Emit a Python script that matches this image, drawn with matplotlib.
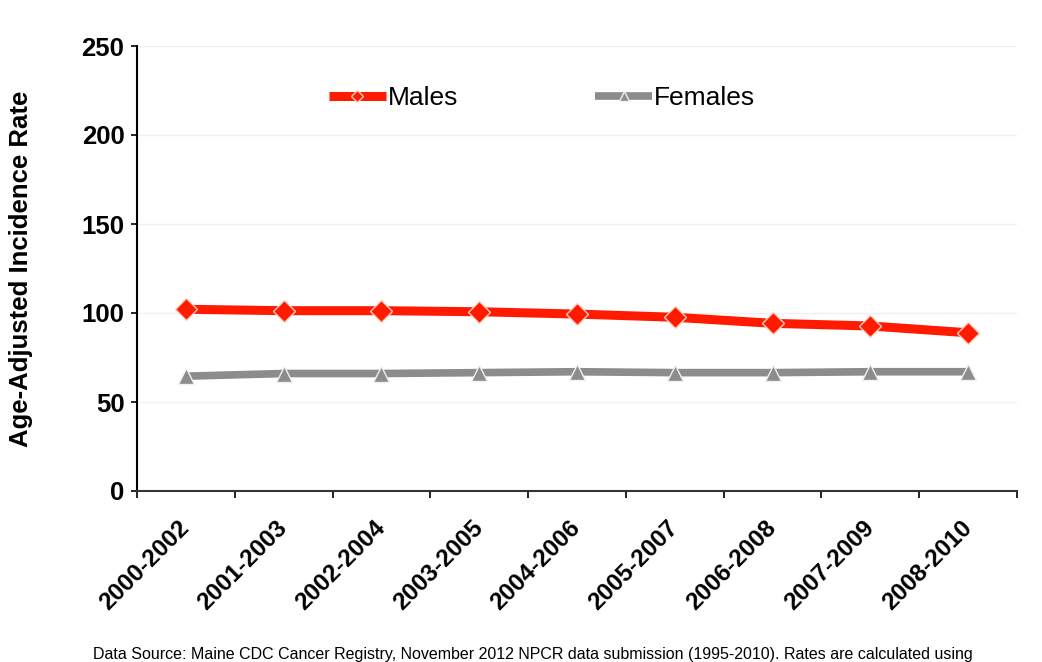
import matplotlib
matplotlib.use("Agg")
import matplotlib.pyplot as plt
from matplotlib.ticker import FixedLocator, NullFormatter
from matplotlib.transforms import ScaledTranslation

periods = ["2000-2002", "2001-2003", "2002-2004", "2003-2005", "2004-2006",
           "2005-2007", "2006-2008", "2007-2009", "2008-2010"]
males = [102.1, 101.3, 101.3, 100.7, 99.4, 97.6, 94.2, 92.7, 88.9]
females = [64.5, 66.0, 66.0, 66.5, 67.0, 66.5, 66.5, 67.0, 67.0]
y_ticks = [0, 50, 100, 150, 200, 250]

plt.rcParams["font.family"] = ["Liberation Sans", "DejaVu Sans"]

fig = plt.figure(figsize=(10.42, 6.62), dpi=100)
ax = fig.add_axes([137 / 1042, 1 - 491 / 662, (1017 - 137) / 1042, (491 - 46) / 662])

x = list(range(len(periods)))
ax.plot(x, males, color="#ff1a00", lw=6.5, marker="D", ms=11,
        mfc="#ff1a00", mec="#ffd0c0", mew=1.0, label="Males", zorder=3,
        solid_capstyle="butt")
ax.plot(x, females, color="#8c8c8c", lw=5.5, marker="^", ms=12,
        mfc="#8c8c8c", mec="#f0f0f0", mew=1.0, label="Females", zorder=3,
        solid_capstyle="butt")

ax.set_xlim(-0.5, len(periods) - 0.5)
ax.set_ylim(0, 250)
ax.set_yticks(y_ticks)
ax.set_yticklabels([str(v) for v in y_ticks], fontsize=18.5, fontweight="bold")
ax.yaxis.grid(True, color="#f0f0f0", lw=1)
ax.set_axisbelow(True)

ax.set_xticks(x)
ax.set_xticklabels(periods, rotation=45, ha="right", va="center",
                   rotation_mode="anchor", fontsize=17.5, fontweight="bold")
shift = ScaledTranslation(-4 / 100, 0, fig.dpi_scale_trans)
for lbl in ax.get_xticklabels():
    lbl.set_transform(lbl.get_transform() + shift)
ax.tick_params(axis="x", which="major", length=0, pad=24)
ax.xaxis.set_minor_locator(FixedLocator([i - 0.5 for i in range(len(periods) + 1)]))
ax.xaxis.set_minor_formatter(NullFormatter())
ax.tick_params(axis="x", which="minor", length=5, width=1.2, direction="out")
ax.tick_params(axis="y", length=4.5, width=1.2, direction="out", pad=4.5)

for side in ("top", "right"):
    ax.spines[side].set_visible(False)
ax.spines["left"].set_linewidth(1.5)
ax.spines["bottom"].set_linewidth(1.5)
ax.spines["bottom"].set_color("#333333")

ax.set_ylabel("Age-Adjusted Incidence Rate", fontsize=18.5, fontweight="bold")
ax.yaxis.set_label_coords(-0.118, 0.5)

fig.legend(loc="center", bbox_to_anchor=(542 / 1042, 1 - 98 / 662), ncol=2,
           frameon=False, fontsize=19, handlelength=2.15, handletextpad=0.08,
           columnspacing=5.2, markerscale=0.6)

fig.text(533 / 1042, 1 - 654 / 662,
         "Data Source: Maine CDC Cancer Registry, November 2012 NPCR data submission "
         "(1995-2010). Rates are calculated using",
         ha="center", va="center", fontsize=11.5)

fig.savefig("out.png", dpi=100)
